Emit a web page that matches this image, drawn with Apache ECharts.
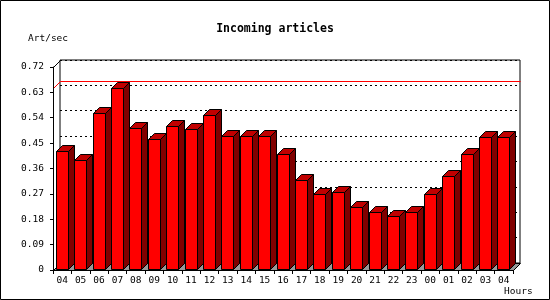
<!DOCTYPE html>
<html>
<head>
<meta charset="utf-8">
<script src="https://cdn.jsdelivr.net/npm/echarts@6/dist/echarts.min.js"></script>
<style>
html,body{margin:0;padding:0;background:#fff;}
#chart{width:550px;height:300px;}
</style>
</head>
<body>
<div id="chart"></div>
<script>
// ---- data ----
const hours = ['04','05','06','07','08','09','10','11','12','13','14','15','16','17','18','19','20','21','22','23','00','01','02','03','04'];
const artPerSec = [0.421,0.389,0.556,0.644,0.502,0.463,0.509,0.499,0.548,0.474,0.477,0.474,0.413,0.318,0.271,0.275,0.225,0.207,0.193,0.204,0.271,0.332,0.410,0.470,0.470];
const yTickLabels = ['0','0.09','0.18','0.27','0.36','0.45','0.54','0.63','0.72'];
const yMax = 0.72, yStep = 0.09;
const titleText = 'Incoming articles';
const yName = 'Art/sec';
const xName = 'Hours';

// ---- style ----
const FONT = 'DejaVu Sans Mono';
const WALL = 7, BAR_D = 6;
const FRONT = '#ff0000', TOP = '#c00000', SIDE = '#800000', FLOOR = '#999999';

const chart = echarts.init(document.getElementById('chart'), null, {renderer: 'canvas'});

function px(v){ return Math.round(v) + 0.5; }

function renderBar(params, api) {
  const i = api.value(0), v = api.value(1);
  const top = api.coord([i, v]);
  const base = api.coord([i, 0]);
  const bw = 12;
  const x0 = px(top[0] - bw / 2 - 0.5), x1 = x0 + bw;
  const yt = px(top[1]), yb = px(base[1]) - 1;
  const d = BAR_D;
  const st = {stroke: '#000', lineWidth: 1};
  return {type: 'group', children: [
    {type: 'polygon', shape: {points: [[x1, yb], [x1 + d, yb - d], [x1 + d, yt - d], [x1, yt]]},
     style: Object.assign({fill: SIDE}, st)},
    {type: 'polygon', shape: {points: [[x0, yt], [x0 + d, yt - d], [x1 + d, yt - d], [x1, yt]]},
     style: Object.assign({fill: TOP}, st)},
    {type: 'rect', shape: {x: x0, y: yt, width: bw, height: yb - yt},
     style: Object.assign({fill: FRONT}, st)}
  ]};
}

function renderFloor(params, api) {
  const cs = params.coordSys;
  const x = cs.x, y = cs.y, w = cs.width, h = cs.height;
  const d = WALL;
  const yb = px(y + h), xl = px(x), xr = px(x + w);
  const yt = px(y);
  return {type: 'group', children: [
    {type: 'polygon', shape: {points: [[xl, yb], [xr, yb], [xr + d, yb - d], [xl + d, yb - d]]},
     style: {fill: FLOOR, stroke: '#000', lineWidth: 1}},
    {type: 'line', shape: {x1: xl, y1: yt, x2: xl + d, y2: yt - d}, style: {stroke: '#000', lineWidth: 1}}
  ]};
}

function renderMax(params, api) {
  const cs = params.coordSys;
  const v = api.value(0);
  const p = api.coord([0, v]);
  const y = px(p[1]);
  const d = WALL;
  return {type: 'polyline', shape: {points: [[px(cs.x), y], [px(cs.x) + d, y - d], [px(cs.x + cs.width) + d, y - d]]},
    style: {stroke: '#ff0000', lineWidth: 1, fill: null}};
}

const maxVal = Math.max.apply(null, artPerSec);
const txt = {fontFamily: FONT, fontSize: 9.5, color: '#000'};

chart.setOption({
  animation: false,
  backgroundColor: '#fff',
  title: {text: titleText, left: 'center', top: 17,
    textStyle: {fontFamily: FONT, fontSize: 11.5, fontWeight: 'bold', color: '#000', lineHeight: 14}},
  grid: [
    {left: 53, right: 37, top: 67, bottom: 30, show: false},
    {left: 60, right: 30, top: 60, bottom: 37, show: true, backgroundColor: '#fff', borderColor: '#000', borderWidth: 1, z: 0}
  ],
  xAxis: [
    {type: 'category', gridIndex: 0, data: hours, boundaryGap: true,
     axisLine: {show: true, lineStyle: {color: '#000', width: 1}},
     axisTick: {show: true, length: 4, alignWithLabel: false, interval: 0, lineStyle: {color: '#000'}},
     axisLabel: Object.assign({margin: 6, interval: 0}, txt),
     splitLine: {show: false}, z: 5},
    {type: 'category', gridIndex: 1, data: hours, show: false}
  ],
  yAxis: [
    {type: 'value', gridIndex: 0, min: 0, max: yMax, interval: yStep,
     axisLine: {show: true, lineStyle: {color: '#000', width: 1}},
     axisTick: {show: true, length: 3, lineStyle: {color: '#000'}},
     axisLabel: Object.assign({margin: 9, formatter: function (v) { return yTickLabels[Math.round(v / yStep)]; }}, txt),
     splitLine: {show: false}, z: 5},
    {type: 'value', gridIndex: 1, min: 0, max: yMax, interval: yStep,
     axisLine: {show: false}, axisTick: {show: false}, axisLabel: {show: false},
     splitLine: {show: true, lineStyle: {color: '#000', width: 1, type: [2, 3]}}}
  ],
  graphic: [
    {type: 'rect', shape: {x: 0.5, y: 0.5, width: 549, height: 299}, style: {fill: null, stroke: '#000', lineWidth: 1}, z: 100},
    {type: 'text', x: 28, y: 39, style: {text: yName, font: '9.5px "DejaVu Sans Mono"', fill: '#000', verticalAlign: 'middle'}},
    {type: 'text', x: 504, y: 292, style: {text: xName, font: '9.5px "DejaVu Sans Mono"', fill: '#000', verticalAlign: 'middle'}}
  ],
  series: [
    {type: 'custom', xAxisIndex: 0, yAxisIndex: 0, renderItem: renderFloor, data: [[0]], z: 1, silent: true, clip: false},
    {type: 'custom', xAxisIndex: 0, yAxisIndex: 0, renderItem: renderMax, data: [[maxVal]], z: 2, silent: true, clip: false},
    {type: 'custom', xAxisIndex: 0, yAxisIndex: 0, renderItem: renderBar, z: 3, clip: false,
     encode: {x: 0, y: 1},
     data: artPerSec.map(function (v, i) { return [i, v]; })}
  ]
});
</script>
</body>
</html>
